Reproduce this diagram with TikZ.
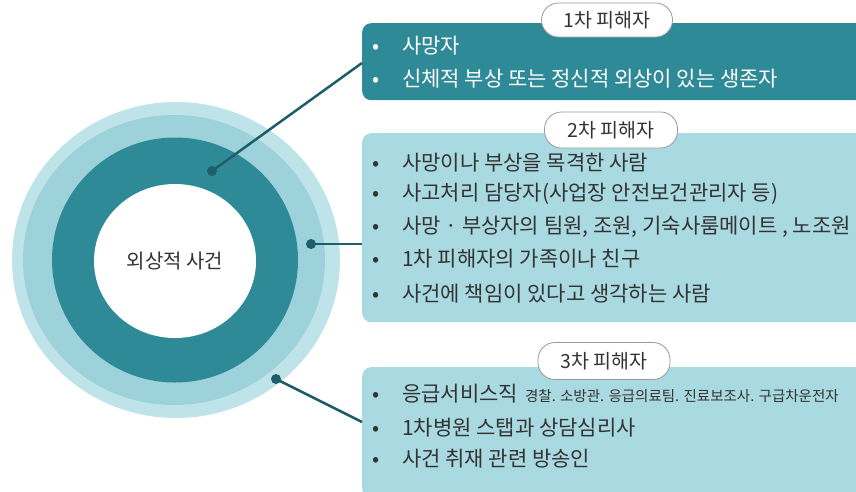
\documentclass[tikz,border=0pt]{standalone}
\usepackage{fontspec}
\usetikzlibrary{shapes.geometric}
\setmainfont{Noto Sans CJK KR}
\definecolor{darkteal}{HTML}{2F8A97}
\definecolor{midteal}{HTML}{9DD2DB}
\definecolor{paleteal}{HTML}{BEE3E9}
\definecolor{boxteal}{HTML}{A9D9E1}
\definecolor{linecol}{HTML}{1E5E69}
\definecolor{txt}{HTML}{333333}
\definecolor{pillline}{HTML}{9A9A9A}
\begin{document}
\begin{tikzpicture}[x=1pt,y=-1pt,
  ringnode/.style={ellipse,inner sep=0pt,draw=none},
  dotnode/.style={circle,fill=linecol,inner sep=0pt,minimum size=10pt},
  conn/.style={draw=linecol,line width=2.5pt},
  boxnode/.style={rectangle,rounded corners=9pt,draw=none,anchor=north west,minimum width=505pt,inner sep=0pt},
  pillnode/.style={rectangle,rounded corners=17pt,draw=pillline,line width=0.8pt,fill=white,inner sep=0pt,font=\fontsize{19.5}{21}\selectfont,text=txt},
  itemnode/.style={anchor=base west,inner sep=0pt,font=\fontsize{21}{23}\selectfont},
  lightitem/.style={itemnode,text=txt},
  whiteitem/.style={itemnode,text=white}
]
\useasboundingbox (0,0) rectangle (856,491);

% rings
\node[ringnode,fill=paleteal,minimum width=328pt,minimum height=316pt] (outer) at (176,260) {};
\node[ringnode,fill=midteal,minimum width=302pt,minimum height=290pt] (mid) at (174,260) {};
\node[ringnode,fill=darkteal,minimum width=246pt,minimum height=245pt] (ring) at (175,260) {};
\node[ringnode,fill=white,minimum width=162pt,minimum height=154pt,text=txt,font=\fontsize{20}{22}\selectfont] (core) at (175,261) {외상적 사건};

% boxes
\node[boxnode,fill=darkteal,minimum height=77pt] (b1) at (362,23) {};
\node[boxnode,fill=boxteal,minimum height=189pt] (b2) at (362,133) {};
\node[boxnode,fill=boxteal,minimum height=130pt] (b3) at (362,367) {};

% pills
\node[pillnode,minimum width=131pt,minimum height=34pt] (p1) at (607,20) {1차 피해자};
\node[pillnode,minimum width=133pt,minimum height=36pt] (p2) at (611,130) {2차 피해자};
\node[pillnode,minimum width=132pt,minimum height=37pt] (p3) at (604,361) {3차 피해자};

% dots and connectors
\node[dotnode] (d1) at (212,171) {};
\node[dotnode] (d2) at (311,244) {};
\node[dotnode] (d3) at (276,379) {};
\coordinate (e1) at (362,63);
\coordinate (e2) at (362,244);
\coordinate (e3) at (362,422);
\draw[conn] (d1.center) -- (e1);
\draw[conn] (d2.center) -- (e2);
\draw[conn] (d3.center) -- (e3);

% box 1 text
\node[whiteitem] (t11) at (372,53) {\makebox[30pt][l]{•}사망자};
\node[whiteitem] (t12) at (372,86) {\makebox[30pt][l]{•}신체적 부상 또는 정신적 외상이 있는 생존자};

% box 2 text
\node[lightitem] (t21) at (372,170) {\makebox[30pt][l]{•}사망이나 부상을 목격한 사람};
\node[lightitem] (t22) at (372,200) {\makebox[30pt][l]{•}사고처리 담당자(사업장 안전보건관리자 등)};
\node[lightitem] (t23) at (372,233) {\makebox[30pt][l]{•}사망 · 부상자의 팀원, 조원, 기숙사룸메이트 , 노조원};
\node[lightitem] (t24) at (372,266) {\makebox[30pt][l]{•}1차 피해자의 가족이나 친구};
\node[lightitem] (t25) at (372,301) {\makebox[30pt][l]{•}사건에 책임이 있다고 생각하는 사람};

% box 3 text
\node[lightitem] (t31) at (372,401) {\makebox[30pt][l]{•}응급서비스직\hspace{7pt}{\fontsize{14.5}{16}\selectfont 경찰. 소방관. 응급의료팀. 진료보조사. 구급차운전자}};
\node[lightitem] (t32) at (372,435) {\makebox[30pt][l]{•}1차병원 스탭과 상담심리사};
\node[lightitem] (t33) at (372,466) {\makebox[30pt][l]{•}사건 취재 관련 방송인};
\end{tikzpicture}
\end{document}
